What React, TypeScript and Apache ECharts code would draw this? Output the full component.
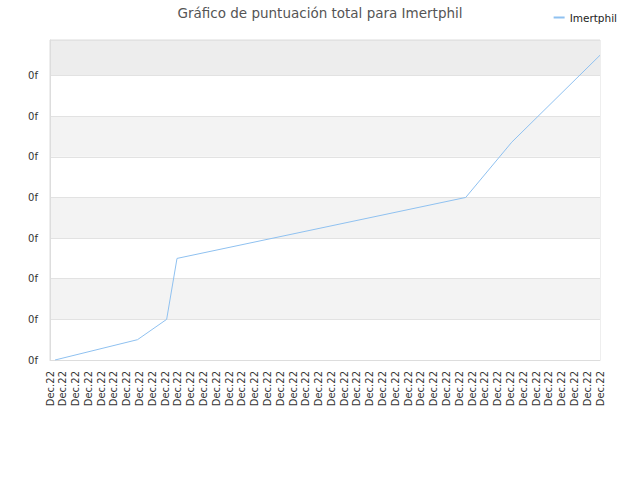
import React, { useEffect, useRef } from "react";
import * as echarts from "echarts";

const titleText = "Gráfico de puntuación total para Imertphil";
const seriesName = "Imertphil";
const categories: string[] = Array.from({ length: 44 }, () => "Dec.22");
const yTickLabel = "0f";
// x positions measured in category-step units, y values in tick units
const pointX = [0.39, 6.84, 9.12, 9.93, 32.5, 36.1, 43];
const pointY = [0, 0.5, 1.0, 2.5, 4.0, 5.36, 7.5];
const yMax = 7.875;

export default function App() {
  const ref = useRef<HTMLDivElement>(null);
  useEffect(() => {
    if (!ref.current) return;
    const chart = echarts.init(ref.current, undefined, { renderer: "svg" });
    const font = "DejaVu Sans";
    chart.setOption({
      animation: false,
      backgroundColor: "#ffffff",
      title: {
        text: titleText,
        left: "center",
        top: 1,
        textStyle: { fontFamily: font, fontSize: 13.5, fontWeight: "normal", color: "#555555" },
      },
      legend: {
        data: [seriesName],
        right: 18,
        top: 7,
        icon: "rect",
        itemWidth: 11,
        itemHeight: 2,
        itemGap: 8,
        textStyle: { fontFamily: font, fontSize: 10.5, color: "#222222" },
      },
      grid: {
        left: 50,
        right: 40,
        top: 40,
        bottom: 120,
        show: true,
        borderColor: "#dddddd",
        borderWidth: 1,
        backgroundColor: "transparent",
      },
      xAxis: [
        {
          type: "category",
          data: categories,
          boundaryGap: false,
          axisTick: { show: false },
          axisLine: { lineStyle: { color: "#dddddd" } },
          splitLine: { show: false },
          axisLabel: {
            rotate: 90,
            interval: 0,
            margin: 11,
            fontFamily: font,
            fontSize: 10,
            color: "#333333",
          },
        },
        {
          type: "value",
          min: 0,
          max: categories.length - 1,
          show: false,
        },
      ],
      yAxis: {
        type: "value",
        min: 0,
        max: yMax,
        interval: 1,
        axisLine: { show: true, lineStyle: { color: "#dddddd" } },
        axisTick: { show: false },
        splitLine: { lineStyle: { color: "#e2e2e2" } },
        splitArea: {
          show: true,
          areaStyle: {
            color: ["#ffffff", "#f3f3f3", "#ffffff", "#f3f3f3", "#ffffff", "#f3f3f3", "#ffffff", "#ededed"],
          },
        },
        axisLabel: {
          margin: 12,
          fontFamily: font,
          fontSize: 10,
          color: "#333333",
          formatter: (v: number) => (Number.isInteger(v) ? yTickLabel : ""),
        },
      },
      series: [
        {
          name: seriesName,
          type: "line",
          xAxisIndex: 1,
          symbol: "none",
          color: "#8fc1f0",
          lineStyle: { color: "#8fc1f0", width: 1 },
          data: pointX.map((x, i) => [x, pointY[i]]),
        },
      ],
    });
    return () => chart.dispose();
  }, []);
  return (
    <div
      ref={ref}
      style={{ position: "absolute", left: 0, top: 0, width: 640, height: 480 }}
    />
  );
}
